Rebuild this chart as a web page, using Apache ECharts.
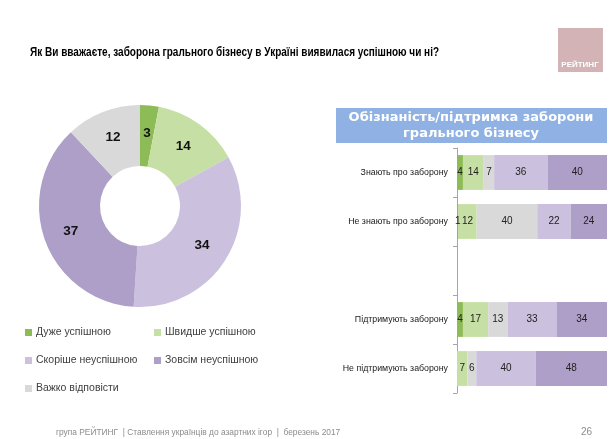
<!DOCTYPE html>
<html>
<head>
<meta charset="utf-8">
<script src="https://cdn.jsdelivr.net/npm/echarts@6/dist/echarts.min.js"></script>
<style>
html, body { margin: 0; padding: 0; background: #fff; }
#main { width: 610px; height: 439px; }
</style>
</head>
<body>
<div id="main"></div>
<script>
// donut: overall answer
const pieNames = ['Дуже успішною', 'Швидше успішною', 'Скоріше неуспішною', 'Зовсім неуспішною', 'Важко відповісти'];
const pieValues = [3, 14, 34, 37, 12];
const pieColors = ['#8dbb55', '#c6dfa4', '#cbc0dd', '#ae9fc8', '#d9d9d9'];

// stacked bars by group
const barCategories = ['Знають про заборону', 'Не знають про заборону', '', 'Підтримують заборону', 'Не підтримують заборону'];
const veryOk = [4, 1, null, 4, null];
const ratherOk = [14, 12, null, 17, 7];
const hardToSay = [7, 40, null, 13, 6];
const ratherNot = [36, 22, null, 33, 40];
const notAtAll = [40, 24, null, 34, 48];

const sans = '"Liberation Sans", Arial, sans-serif';

// order of segments in the bars, left to right
const barSeries = [
	{ name: 'Дуже успішною', values: veryOk, color: pieColors[0] },
	{ name: 'Швидше успішною', values: ratherOk, color: pieColors[1] },
	{ name: 'Важко відповісти', values: hardToSay, color: pieColors[4] },
	{ name: 'Скоріше неуспішною', values: ratherNot, color: pieColors[2] },
	{ name: 'Зовсім неуспішною', values: notAtAll, color: pieColors[3] }
];

// rows are drawn as 100% stacks
const rowTotals = barCategories.map(function(c, i) {
	let t = 0;
	barSeries.forEach(function(s) { t += s.values[i] || 0; });
	return t;
});

const legendPos = [
	{ left: 20, top: 322 },
	{ left: 149, top: 322 },
	{ left: 20, top: 350 },
	{ left: 149, top: 350 },
	{ left: 20, top: 378 }
];

const chart = echarts.init(document.getElementById('main'));

const option = {
	animation: false,
	backgroundColor: '#fff',
	color: pieColors,
	legend: pieNames.map(function(n, i) {
		return {
			data: [n],
			left: legendPos[i].left,
			top: legendPos[i].top,
			icon: 'rect',
			itemWidth: 7,
			itemHeight: 7,
			itemGap: 0,
			textStyle: { fontFamily: sans, fontSize: 10.5, color: '#404040', padding: [0, 0, 0, -1] },
			selectedMode: false
		};
	}),
	grid: { left: 457, right: 3, top: 148, bottom: 46 },
	xAxis: { type: 'value', min: 0, max: 100, show: false },
	yAxis: {
		type: 'category',
		inverse: true,
		data: barCategories,
		axisLine: { show: true, lineStyle: { color: '#a6a6a6' } },
		axisTick: { show: true, length: 4, lineStyle: { color: '#a6a6a6' } },
		axisLabel: { fontFamily: sans, fontSize: 8.8, color: '#1a1a1a', margin: 9 }
	},
	series: [{
		type: 'pie',
		center: [140, 206],
		radius: [40, 101],
		startAngle: 90,
		label: {
			position: 'inside',
			formatter: '{c}',
			fontFamily: sans,
			fontWeight: 'bold',
			fontSize: 13.5,
			color: '#111'
		},
		labelLine: { show: false },
		data: pieNames.map(function(n, i) {
			return { name: n, value: pieValues[i], itemStyle: { color: pieColors[i] } };
		})
	}].concat(barSeries.map(function(s) {
		return {
			type: 'bar',
			name: s.name,
			stack: 'all',
			barCategoryGap: '29%',
			itemStyle: { color: s.color },
			label: {
				show: true,
				position: 'inside',
				fontFamily: sans,
				fontSize: 10,
				color: '#222',
				formatter: function(p) { return s.values[p.dataIndex]; }
			},
			data: s.values.map(function(v, i) {
				return v == null ? null : v / rowTotals[i] * 100;
			})
		};
	})),
	graphic: [
		{
			type: 'text',
			x: 30,
			y: 46,
			scaleX: 0.77,
			style: {
				text: 'Як Ви вважаєте, заборона грального бізнесу в Україні виявилася успішною чи ні?',
				font: 'bold 13px ' + sans,
				fill: '#000'
			}
		},
		{
			type: 'rect',
			shape: { x: 558, y: 28, width: 45, height: 44 },
			style: { fill: '#d3b3b5' }
		},
		{
			type: 'text',
			x: 580, y: 65,
			style: {
				text: 'РЕЙТИНГ',
				font: 'bold 8px ' + sans,
				fill: '#fff',
				align: 'center',
				verticalAlign: 'middle'
			}
		},
		{
			type: 'rect',
			shape: { x: 336, y: 108, width: 271, height: 35 },
			style: { fill: '#8fb1e3' }
		},
		{
			type: 'text',
			x: 471, y: 126,
			style: {
				text: 'Обізнаність/підтримка заборони\nгрального бізнесу',
				font: 'bold 13px "DejaVu Sans", sans-serif',
				lineHeight: 16,
				fill: '#fff',
				align: 'center',
				verticalAlign: 'middle'
			}
		},
		{
			type: 'text',
			x: 56,
			y: 427,
			scaleX: 0.88,
			style: {
				text: 'група РЕЙТИНГ  | Ставлення українців до азартних ігор  |  березень 2017',
				font: '9.5px ' + sans,
				fill: '#8c8c8c'
			}
		},
		{
			type: 'text',
			x: 581,
			y: 427,
			style: {
				text: '26',
				font: '10px ' + sans,
				fill: '#8c8c8c'
			}
		}
	]
};

chart.setOption(option);
</script>
</body>
</html>
